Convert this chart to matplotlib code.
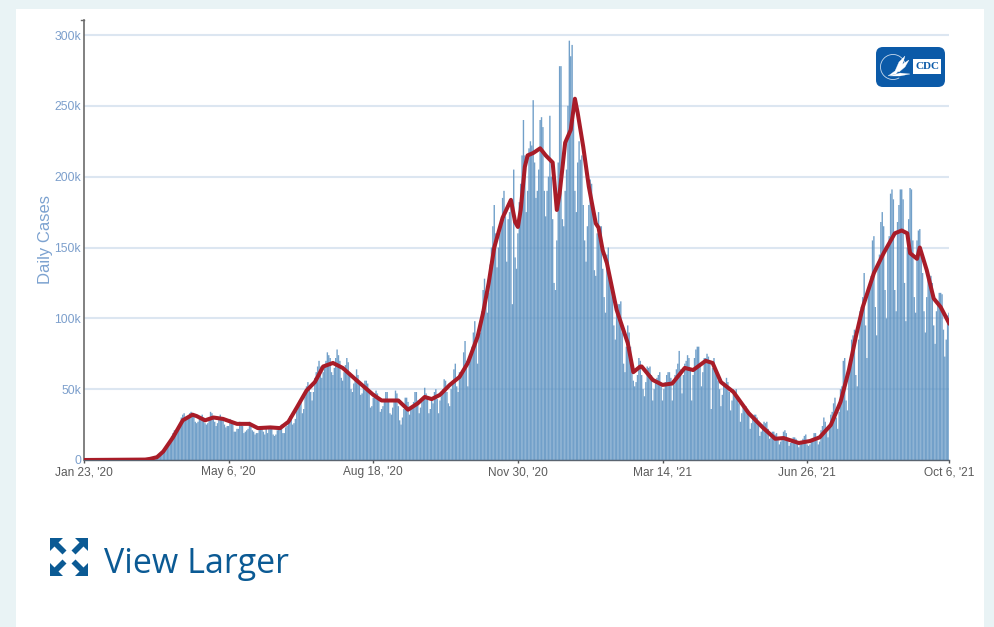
import matplotlib
matplotlib.use("Agg")
import matplotlib.pyplot as plt
from matplotlib.patches import Rectangle, FancyBboxPatch, Polygon, Arc

W, H = 994, 627

# Daily cases in thousands, one row per week (Thu..Wed), starting Jan 23, 2020
daily_weeks = [
    [0,0,0,0,0,0,0],[0,0,0,0,0,0,0],[0,0,0,0,0,0,0],[0,0,0,0,0,0,0],[0,0,0,0,0,0,0],
    [0,0,0,0,0,0,0],[.1,.1,.1,.1,.2,.3,.4],[.5,.7,.8,1,1.5,2.2,3],
    [4.5,5.8,7,8,9.5,10.5,12],[17,19,21,20,19,24,25],[30,32,33,28,29,31,33],
    [34,33,31,27,26,27,29],[31,32,30,26,25,26,28],[34,33,31,27,24,26,29],
    [32,30,29,25,23,24,24],[29,28,26,20,20,22,22],[27,25,24,19,20,21,22],
    [27,24,21,20,18,19,19],[22,24,24,20,18,22,19],[23,24,22,18,17,18,21],
    [23,24,25,19,19,23,24],[28,31,30,25,26,29,35],[39,42,43,33,36,45,52],
    [55,52,48,42,48,58,62],[66,70,66,58,62,66,70],[76,74,72,62,60,65,72],
    [78,74,70,58,56,62,67],[72,69,62,50,48,54,58],[64,60,55,46,47,52,56],
    [56,54,50,37,38,44,47],[49,47,44,34,36,38,42],[48,48,42,33,32,37,41],
    [49,47,38,28,25,30,36],[44,44,41,32,36,37,41],[48,48,42,33,37,41,43],
    [51,47,44,33,36,44,40],[48,50,43,33,42,45,50],[57,56,48,40,38,50,56],
    [64,68,52,48,62,60,62],[76,84,70,52,68,72,80],[90,98,82,68,88,90,105],
    [120,128,118,104,118,138,150],[165,180,160,136,150,160,170],
    [185,190,172,140,170,175,185],[110,205,143,135,160,182,195],
    [215,240,215,175,190,220,225],[222,254,210,185,190,205,240],
    [242,235,190,172,190,200,243],[200,170,125,120,155,210,278],
    [278,170,165,190,205,250,296],[285,293,240,190,175,210,225],
    [212,215,180,155,140,165,180],[198,195,175,134,130,160,175],
    [165,165,135,115,104,145,150],[130,125,115,95,85,105,110],
    [110,112,90,68,62,80,95],[90,80,68,56,52,55,60],[72,70,60,50,45,55,66],
    [65,66,60,42,50,55,58],[60,62,52,42,50,55,60],[62,62,58,42,53,60,64],
    [68,77,64,47,60,68,70],[74,72,65,42,60,72,78],[80,80,68,52,62,72,72],
    [75,73,70,36,65,72,66],[60,56,50,38,46,55,52],[58,55,48,35,42,50,48],
    [50,45,40,27,33,38,38],[38,36,32,22,26,30,32],[32,30,26,17,20,25,27],
    [26,27,22,15,16,20,20],[18,19,15,11,13,15,20],[21,19,14,10,12,15,16],
    [16,15,12,9,11,13,15],[17,18,11,10,11,14,15],[19,19,14,11,13,21,24],
    [30,27,20,16,22,32,34],[40,44,30,22,34,50,52],[70,72,42,35,62,68,85],
    [88,92,60,52,85,105,108],[115,132,95,72,120,125,130],
    [155,158,108,88,140,145,168],[175,165,120,100,150,158,188],
    [191,184,120,105,168,180,191],[191,184,125,98,150,170,192],
    [191,155,115,104,155,162,163],[150,132,105,90,115,130,128],
    [130,125,95,82,105,112,118],[118,117,92,73,85,102,104],
]
daily_cases = [v for week in daily_weeks for v in week]
days = list(range(len(daily_cases)))

# 7-day average
avg_days = [0,44,47.5,52.5,57,64,71,78,81,87,93,100,110,119,125,134,141,147,153,160,166,172,179,186,194,
            201,208,214,226,233,240,245,250,256,263,270,276,283,287,291,295,301,307,310,312,314,317,319,
            323,325,328,332,337,340,342,346,350,353,355,359,363,368,370,373,376,383,391,395,400,401,409,
            416,423,432,438,447,452,458,467,478,488,497,503,514,522,529,537,544,550,555,560,568,575,583,
            588,592,594,599,601,606,611,616,622]
avg_cases = [0,.3,.8,2,6,16,28,32,31,28,30,29,25.5,25.5,22.5,23,22.5,27,37,49,55,66,68.5,65,58,
             52,46,42,42,35.5,40,44.5,43,46,53,58.6,68.5,87,104,125,150,171,183.6,168,164.5,176.5,207,215,
             216.7,218,220,215,210,176.5,188,224,233,255,245,221,193,167,164,148,139,106,82.6,62,66,66,56.5,
             53,54,65,63.5,70,68.5,55,48,33,23,15,15.5,12,13.4,16,24.7,41,63.5,87,108,132,146,160,
             162,160,146,142,150,134,114,108,96.7]

y_ticks = [0, 50, 100, 150, 200, 250, 300]
y_labels = ["0", "50k", "100k", "150k", "200k", "250k", "300k"]
x_ticks = [0, 104, 208, 312, 416, 520, 622]
x_labels = ["Jan 23, '20", "May 6, '20", "Aug 18, '20", "Nov 30, '20",
            "Mar 14, '21", "Jun 26, '21", "Oct 6, '21"]

plt.rcParams['font.family'] = ['Liberation Sans', 'DejaVu Sans']
fig = plt.figure(figsize=(W / 100, H / 100), dpi=100, facecolor="#E9F3F5")

bg = fig.add_axes([0, 0, 1, 1], zorder=0)
bg.set_xlim(0, W); bg.set_ylim(H, 0); bg.axis("off")
bg.add_patch(Rectangle((16, 9), 968, 618, fc="white", ec="none"))

L, R, T, B = 84, 949, 20, 460
ax = fig.add_axes([L / W, 1 - B / H, (R - L) / W, (B - T) / H], zorder=1)
ax.patch.set_alpha(0)
ax.set_xlim(0, 622)
ax.set_ylim(0, (B - T) / 425 * 300)
ax.set_yticks(y_ticks, y_labels)
ax.set_xticks(x_ticks, x_labels)
ax.grid(axis="y", color="#DCE6F1", lw=1.5, zorder=1)
ax.set_axisbelow(True)
bars = ax.bar(days, daily_cases, width=1.0, color="#5E93C2", alpha=0.88, lw=0, zorder=2)
for b in bars:
    b.set_snap(False)
    b.set_antialiased(True)
ax.plot(avg_days, avg_cases, color="#A81C28", lw=2.9, solid_joinstyle="round", zorder=3)

for s in ("top", "right"):
    ax.spines[s].set_visible(False)
ax.spines["left"].set_color("#6B6B6B"); ax.spines["left"].set_linewidth(1.2)
ax.spines["bottom"].set_color("#5A6470"); ax.spines["bottom"].set_linewidth(1.0)
ax.tick_params(axis="y", length=0, pad=2.2, labelsize=8.8, labelcolor="#7C9FCC")
ax.tick_params(axis="x", length=2, width=1, color="#555555", pad=2.5, labelsize=8.6, labelcolor="#5A5A5A")
ax.set_ylabel("Daily Cases", fontsize=12, color="#7CA2D0")
ax.yaxis.set_label_coords((53 - L) / (R - L), 0.5)

bg.plot([81, 84], [20, 20], color="#6B6B6B", lw=1)

# CDC logo
blue = "#0B5AA8"
bg.add_patch(FancyBboxPatch((876, 47), 69, 40, boxstyle="round,pad=0,rounding_size=7",
                            fc=blue, ec="none"))
bg.add_patch(Arc((893, 67), 25, 25, theta1=60, theta2=345, ec="#C9DBEE", lw=0.6))
for pts in ([(888, 76), (895, 71), (899, 62), (905, 56), (902, 66), (896, 74)],
            [(896, 70), (901, 65), (909, 60), (905, 67), (899, 72)],
            [(890, 76), (900, 73), (910, 74), (900, 76)]):
    bg.add_patch(Polygon(pts, closed=True, fc="white", ec="white", lw=0.2))
bg.add_patch(Rectangle((913, 59), 28, 15, fc="white", ec="none"))
bg.text(927, 66.7, "CDC", family="Liberation Serif", weight="bold", fontsize=8, color=blue,
        ha="center", va="center")

# View Larger icon and text
nav = "#0B5A94"
def corner(cx, cy, sx, sy):
    pts = [(0, 0), (13, 0), (8.5, 4.5), (16.5, 12.5), (12.5, 16.5), (4.5, 8.5), (0, 13)]
    bg.add_patch(Polygon([(cx + sx * a, cy + sy * b) for a, b in pts], closed=True, fc=nav, ec="none"))
corner(50, 538, 1, 1)
corner(88, 538, -1, 1)
corner(50, 576, 1, -1)
corner(88, 576, -1, -1)
bg.text(104, 564, "View Larger", family="Open Sans", fontsize=24.5, color=nav, ha="left", va="center")

fig.savefig("out.png", dpi=100, facecolor=fig.get_facecolor())
